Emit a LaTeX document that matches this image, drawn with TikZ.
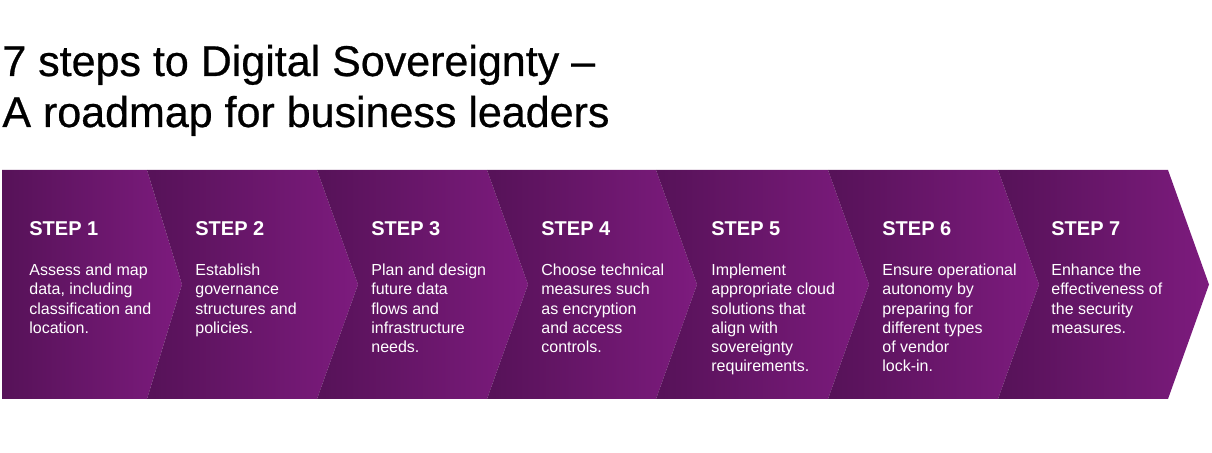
\documentclass[tikz,border=0pt]{standalone}
\usepackage{fontspec}
\setmainfont{Liberation Sans}
\newfontfamily\headfont[FakeBold=0.6]{Liberation Sans}
\usetikzlibrary{positioning}
\definecolor{plumdark}{RGB}{86,18,88}
\definecolor{plumlight}{RGB}{125,27,126}

\begin{document}
\begin{tikzpicture}[x=0.5pt, y=-0.5pt,
    segment/.style={left color=plumdark, right color=plumlight},
    headline/.style={anchor=base west, inner sep=0pt, font=\headfont\fontsize{21.5}{25.5}\selectfont},
    steplabel/.style={anchor=base west, inner sep=0pt, text=white, font=\bfseries\fontsize{10}{12}\selectfont},
    stepdesc/.style={anchor=north west, inner sep=0pt, text=white, align=left,
        font=\fontsize{8}{9.65}\selectfont, execute at begin node=\strut}
]
    \useasboundingbox (0,0) rectangle (1212,453);

    % Title
    \node[headline] (title1) at (2,76) {7 steps to Digital Sovereignty –};
    \node[headline] (title2) at (2,127) {A roadmap for business leaders};

    % Chevron band
    \shade[segment] (2,170) -- (147,170) -- (182,284.5) -- (147,399) -- (2,399) -- cycle;
    \shade[segment] (147,170) -- (317,170) -- (358,284.5) -- (317,399) -- (147,399) -- (182,284.5) -- cycle;
    \shade[segment] (317,170) -- (487,170) -- (528,284.5) -- (487,399) -- (317,399) -- (358,284.5) -- cycle;
    \shade[segment] (487,170) -- (656,170) -- (697,284.5) -- (656,399) -- (487,399) -- (528,284.5) -- cycle;
    \shade[segment] (656,170) -- (828,170) -- (869,284.5) -- (828,399) -- (656,399) -- (697,284.5) -- cycle;
    \shade[segment] (828,170) -- (998,170) -- (1039,284.5) -- (998,399) -- (828,399) -- (869,284.5) -- cycle;
    \shade[segment] (998,170) -- (1168,170) -- (1209,284.5) -- (1168,399) -- (998,399) -- (1039,284.5) -- cycle;

    % Step labels
    \node[steplabel] (step1) at (29,236) {STEP 1};
    \node[steplabel] (step2) at (195,236) {STEP 2};
    \node[steplabel] (step3) at (371,236) {STEP 3};
    \node[steplabel] (step4) at (541,236) {STEP 4};
    \node[steplabel] (step5) at (711,236) {STEP 5};
    \node[steplabel] (step6) at (882,236) {STEP 6};
    \node[steplabel] (step7) at (1051,236) {STEP 7};

    % Step descriptions
    \node[stepdesc] (desc1) at (29,263.5) {Assess and map\\data, including\\classification and\\location.};
    \node[stepdesc] (desc2) at (195,263.5) {Establish\\governance\\structures and\\policies.};
    \node[stepdesc] (desc3) at (371,263.5) {Plan and design\\future data\\flows and\\infrastructure\\needs.};
    \node[stepdesc] (desc4) at (541,263.5) {Choose technical\\measures such\\as encryption\\and access\\controls.};
    \node[stepdesc] (desc5) at (711,263.5) {Implement\\appropriate cloud\\solutions that\\align with\\sovereignty\\requirements.};
    \node[stepdesc] (desc6) at (882,263.5) {Ensure operational\\autonomy by\\preparing for\\different types\\of vendor\\lock-in.};
    \node[stepdesc] (desc7) at (1051,263.5) {Enhance the\\effectiveness of\\the security\\measures.};
\end{tikzpicture}
\end{document}
